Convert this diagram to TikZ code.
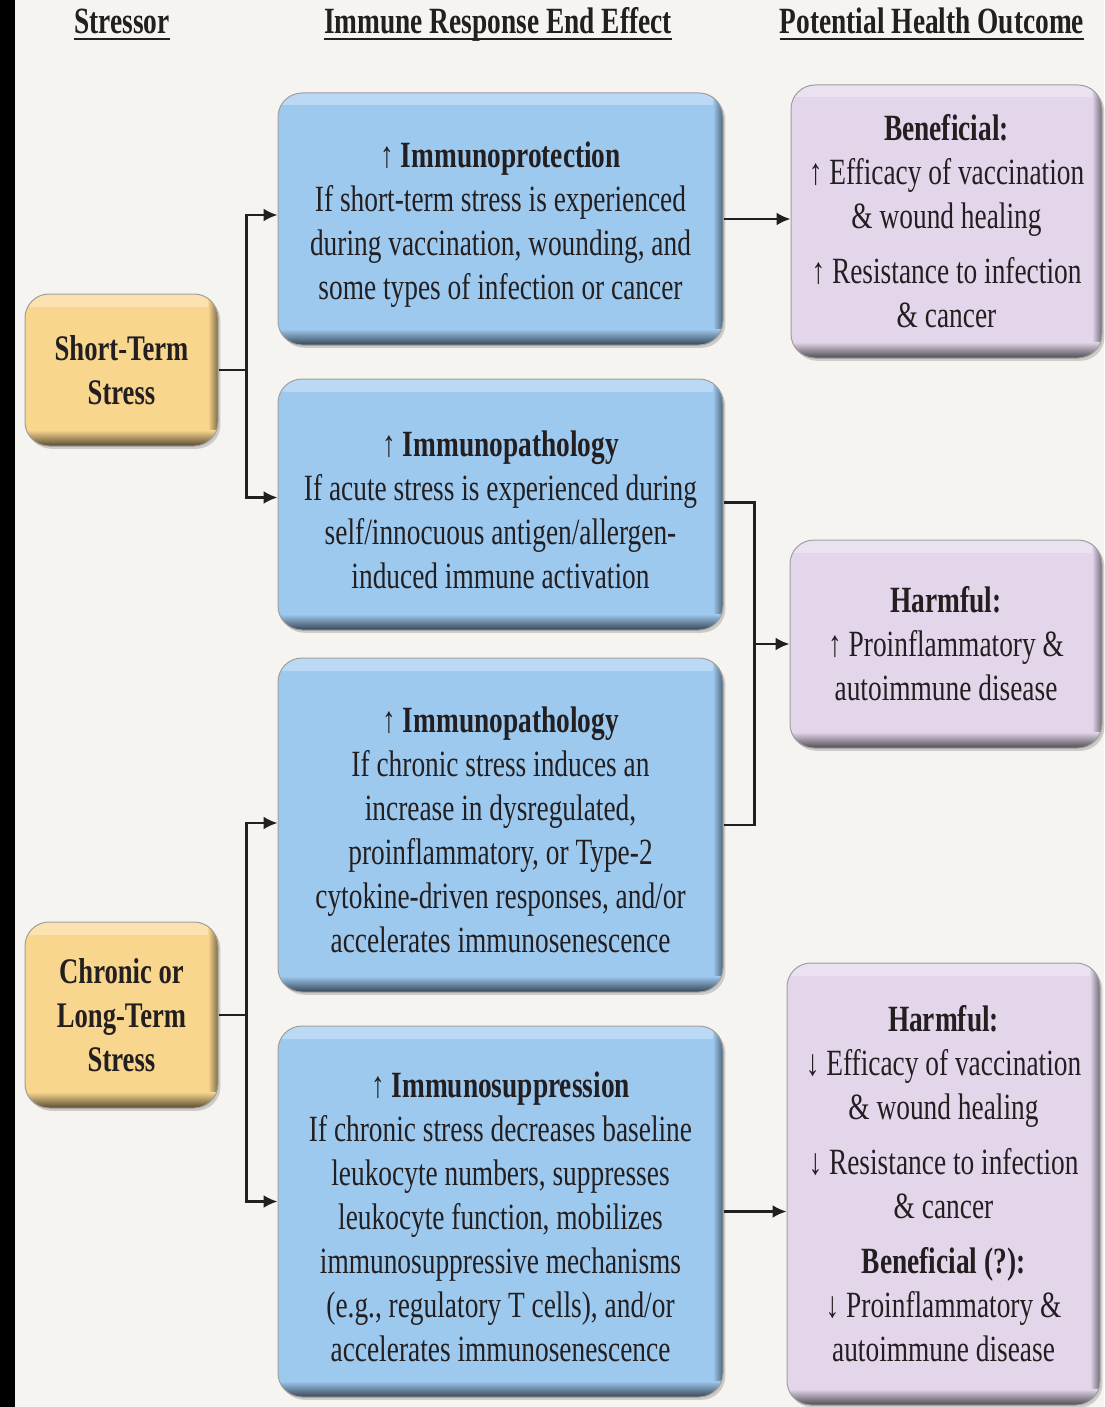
\documentclass[tikz,border=0pt]{standalone}
\usepackage{fontspec}
\setmainfont[FakeStretch=0.74]{Liberation Serif}
\usetikzlibrary{shadows, arrows.meta}

\definecolor{bgpaper}{RGB}{245,244,240}
\definecolor{stressfill}{RGB}{249,214,142}
\definecolor{effectfill}{RGB}{158,201,239}
\definecolor{outcomefill}{RGB}{227,214,235}
\definecolor{inkgray}{RGB}{35,31,32}

\newcommand{\toppad}{\rule{0pt}{18pt}}

\tikzset{
  box/.style={draw=gray!75, line width=0.5pt, rounded corners=12pt, align=center,
    inner sep=0pt, text=inkgray, fill=#1,
    font=\fontsize{18.5}{22}\selectfont,
    drop shadow={shadow xshift=1.2pt, shadow yshift=-1.4pt, opacity=0.35},
    path picture={
      \shade[sharp corners, top color=#1!70!white, bottom color=#1]
        (path picture bounding box.north west) rectangle ([yshift=-6pt]path picture bounding box.north east);
      \shade[sharp corners, left color=#1, right color=#1!50!black]
        ([xshift=-5pt]path picture bounding box.north east) rectangle (path picture bounding box.south east);
      \shade[sharp corners, top color=#1, bottom color=#1!35!black]
        ([yshift=8pt]path picture bounding box.south west) rectangle (path picture bounding box.south east);
    }},
  stressbox/.style={box=stressfill, font=\bfseries\fontsize{18}{22}\selectfont, minimum width=96.5pt},
  effectbox/.style={box=effectfill, minimum width=222.5pt},
  outcomebox/.style={box=outcomefill},
  head/.style={anchor=base, inner sep=0pt, text=inkgray, font=\bfseries\fontsize{18.5}{22}\selectfont},
  underl/.style={line width=1.4pt, inkgray},
  conn/.style={line width=1.2pt, inkgray},
  arr/.style={conn, -{Latex[length=7pt, width=6.5pt]}},
}

\begin{document}
\begin{tikzpicture}[x=0.5pt, y=0.5pt]
\useasboundingbox (0,0) rectangle (1104,-1407);
\fill[bgpaper] (0,0) rectangle (1104,-1407);
\fill[black] (0,0) rectangle (15,-1407);

% Column headings
\node[head] (hs) at (122,-34) {Stressor};
\node[head] (he) at (498,-34) {Immune Response End Effect};
\node[head] (ho) at (932,-34) {Potential Health Outcome};
\draw[underl] ([yshift=-2.5pt]hs.base west) -- ([yshift=-2.5pt]hs.base east);
\draw[underl] ([yshift=-2.5pt]he.base west) -- ([yshift=-2.5pt]he.base east);
\draw[underl] ([yshift=-2.5pt]ho.base west) -- ([yshift=-2.5pt]ho.base east);

% Stressors
\node[stressbox, minimum height=76pt] (st) at (121.5,-370) {Short-Term\\Stress};
\node[stressbox, minimum height=93pt] (ch) at (121.5,-1015) {Chronic or\\Long-Term\\Stress};

% Immune response end effects
\node[effectbox, minimum height=126pt] (b1) at (500.5,-219) {\toppad↑ \textbf{Immunoprotection}\\
  If short-term stress is experienced\\during vaccination, wounding, and\\some types of infection or cancer};
\node[effectbox, minimum height=125.5pt] (b2) at (500.5,-504.5) {\toppad↑ \textbf{Immunopathology}\\
  If acute stress is experienced during\\self/innocuous antigen/allergen-\\induced immune activation};
\node[effectbox, minimum height=167pt] (b3) at (500.5,-825) {\toppad↑ \textbf{Immunopathology}\\
  If chronic stress induces an\\increase in dysregulated,\\proinflammatory, or Type-2\\cytokine-driven responses, and/or\\accelerates immunosenescence};
\node[effectbox, minimum height=185.5pt] (b4) at (500.5,-1211.5) {\toppad↑ \textbf{Immunosuppression}\\
  If chronic stress decreases baseline\\leukocyte numbers, suppresses\\leukocyte function, mobilizes\\immunosuppressive mechanisms\\(e.g., regulatory T cells), and/or\\accelerates immunosenescence};

% Health outcomes
\node[outcomebox, minimum width=155.5pt, minimum height=136.5pt] (p1) at (946.5,-221.5) {\textbf{Beneficial:}\\
  ↑ Efficacy of vaccination\\\& wound healing\\[5.5pt]↑ Resistance to infection\\\& cancer};
\node[outcomebox, minimum width=156pt, minimum height=104pt] (p2) at (946,-644) {\textbf{Harmful:}\\
  ↑ Proinflammatory \&\\autoimmune disease};
\node[outcomebox, minimum width=156.5pt, minimum height=221pt] (p3) at (943.5,-1184) {\textbf{Harmful:}\\
  ↓ Efficacy of vaccination\\\& wound healing\\[5.5pt]↓ Resistance to infection\\\& cancer\\[5.5pt]
  \textbf{Beneficial (?):}\\↓ Proinflammatory \&\\autoimmune disease};

% Arrows
\draw[conn] (st.east) -- ++(28,0) coordinate (j1);
\draw[arr] (j1) |- ([yshift=2pt]b1.west);
\draw[arr] (j1) |- ([yshift=3.5pt]b2.west);
\draw[conn] (ch.east) -- ++(28,0) coordinate (j2);
\draw[arr] (j2) |- ([yshift=1pt]b3.west);
\draw[arr] (j2) |- ([yshift=5pt]b4.west);
\draw[arr] (b1.east) -- (b1.east -| p1.west);
\draw[conn] ([yshift=1pt]b2.east) -- ++(31,0) coordinate (k1) -- (k1 |- b3.east) -- (b3.east);
\draw[arr] (k1 |- p2.west) -- (p2.west);
\draw[arr] (b4.east) -- (b4.east -| p3.west);
\end{tikzpicture}
\end{document}
